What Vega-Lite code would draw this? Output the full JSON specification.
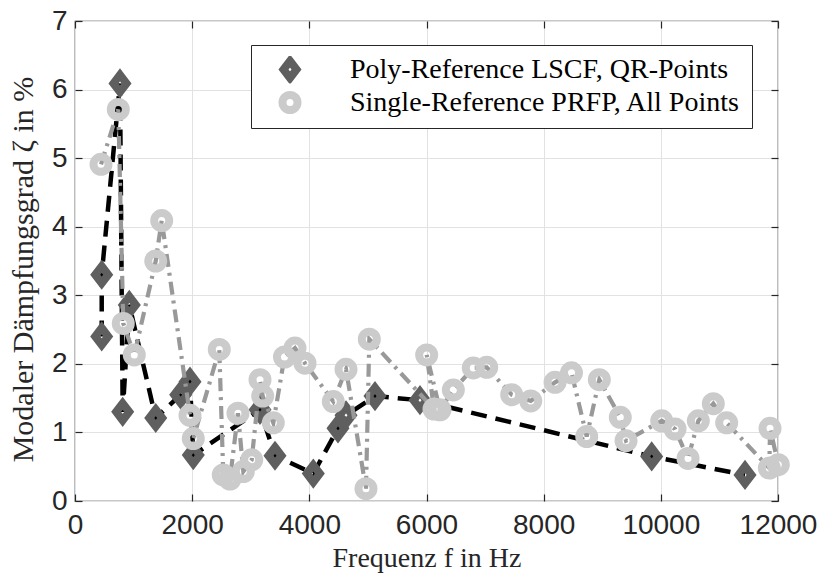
{
  "$schema": "https://vega.github.io/schema/vega-lite/v6.json",
  "width": 703,
  "height": 480,
  "autosize": {"type": "none"},
  "padding": {"left": 75, "top": 21, "right": 40, "bottom": 72},
  "background": "white",
  "config": {
    "view": {"stroke": "#262626", "strokeWidth": 1.2},
    "axis": {
      "gridColor": "#e2e2e2",
      "gridWidth": 1,
      "tickColor": "#262626",
      "tickWidth": 1.2,
      "domain": false,
      "labelFont": "Liberation Sans",
      "labelFontSize": 28,
      "labelColor": "#262626",
      "titleFont": "Liberation Serif",
      "titleFontSize": 28,
      "titleFontWeight": "normal",
      "titleColor": "#262626"
    },
    "legend": {
      "title": null,
      "orient": "none",
      "legendX": 176,
      "legendY": 24,
      "labelFont": "Liberation Serif",
      "labelFontSize": 28,
      "labelColor": "#000000",
      "labelLimit": 700,
      "strokeColor": "#262626",
      "fillColor": "white",
      "padding": 11,
      "symbolStrokeWidth": 8,
      "labelOffset": 46,
      "rowPadding": 4,
      "clipHeight": 27,
      "symbolOffset": 14
    }
  },
  "data": {
    "values": [
      {"series": "Poly-Reference LSCF, QR-Points", "f": 456, "z": 2.40, "o": 1},
      {"series": "Poly-Reference LSCF, QR-Points", "f": 456, "z": 3.30, "o": 2},
      {"series": "Poly-Reference LSCF, QR-Points", "f": 768, "z": 6.09, "o": 3},
      {"series": "Poly-Reference LSCF, QR-Points", "f": 814, "z": 1.30, "o": 4},
      {"series": "Poly-Reference LSCF, QR-Points", "f": 927, "z": 2.86, "o": 5},
      {"series": "Poly-Reference LSCF, QR-Points", "f": 1378, "z": 1.21, "o": 6},
      {"series": "Poly-Reference LSCF, QR-Points", "f": 1804, "z": 1.55, "o": 7},
      {"series": "Poly-Reference LSCF, QR-Points", "f": 1963, "z": 1.74, "o": 8},
      {"series": "Poly-Reference LSCF, QR-Points", "f": 2019, "z": 0.67, "o": 9},
      {"series": "Poly-Reference LSCF, QR-Points", "f": 3158, "z": 1.33, "o": 10},
      {"series": "Poly-Reference LSCF, QR-Points", "f": 3414, "z": 0.66, "o": 11},
      {"series": "Poly-Reference LSCF, QR-Points", "f": 4068, "z": 0.40, "o": 12},
      {"series": "Poly-Reference LSCF, QR-Points", "f": 4489, "z": 1.06, "o": 13},
      {"series": "Poly-Reference LSCF, QR-Points", "f": 4626, "z": 1.25, "o": 14},
      {"series": "Poly-Reference LSCF, QR-Points", "f": 5121, "z": 1.53, "o": 15},
      {"series": "Poly-Reference LSCF, QR-Points", "f": 5889, "z": 1.47, "o": 16},
      {"series": "Poly-Reference LSCF, QR-Points", "f": 9844, "z": 0.65, "o": 17},
      {"series": "Poly-Reference LSCF, QR-Points", "f": 11437, "z": 0.38, "o": 18},
      {"series": "Single-Reference PRFP, All Points", "f": 444, "z": 4.91, "o": 1},
      {"series": "Single-Reference PRFP, All Points", "f": 739, "z": 5.71, "o": 2},
      {"series": "Single-Reference PRFP, All Points", "f": 824, "z": 2.59, "o": 3},
      {"series": "Single-Reference PRFP, All Points", "f": 1012, "z": 2.13, "o": 4},
      {"series": "Single-Reference PRFP, All Points", "f": 1378, "z": 3.50, "o": 5},
      {"series": "Single-Reference PRFP, All Points", "f": 1480, "z": 4.09, "o": 6},
      {"series": "Single-Reference PRFP, All Points", "f": 1963, "z": 1.25, "o": 7},
      {"series": "Single-Reference PRFP, All Points", "f": 2019, "z": 0.91, "o": 8},
      {"series": "Single-Reference PRFP, All Points", "f": 2463, "z": 2.21, "o": 9},
      {"series": "Single-Reference PRFP, All Points", "f": 2531, "z": 0.38, "o": 10},
      {"series": "Single-Reference PRFP, All Points", "f": 2646, "z": 0.32, "o": 11},
      {"series": "Single-Reference PRFP, All Points", "f": 2782, "z": 1.28, "o": 12},
      {"series": "Single-Reference PRFP, All Points", "f": 2873, "z": 0.43, "o": 13},
      {"series": "Single-Reference PRFP, All Points", "f": 3016, "z": 0.60, "o": 14},
      {"series": "Single-Reference PRFP, All Points", "f": 3158, "z": 1.77, "o": 15},
      {"series": "Single-Reference PRFP, All Points", "f": 3204, "z": 1.53, "o": 16},
      {"series": "Single-Reference PRFP, All Points", "f": 3385, "z": 1.14, "o": 17},
      {"series": "Single-Reference PRFP, All Points", "f": 3576, "z": 2.10, "o": 18},
      {"series": "Single-Reference PRFP, All Points", "f": 3755, "z": 2.23, "o": 19},
      {"series": "Single-Reference PRFP, All Points", "f": 3926, "z": 2.01, "o": 20},
      {"series": "Single-Reference PRFP, All Points", "f": 4409, "z": 1.45, "o": 21},
      {"series": "Single-Reference PRFP, All Points", "f": 4626, "z": 1.92, "o": 22},
      {"series": "Single-Reference PRFP, All Points", "f": 4967, "z": 0.18, "o": 23},
      {"series": "Single-Reference PRFP, All Points", "f": 5024, "z": 2.36, "o": 24},
      {"series": "Single-Reference PRFP, All Points", "f": 6128, "z": 1.34, "o": 25},
      {"series": "Single-Reference PRFP, All Points", "f": 6003, "z": 2.13, "o": 26},
      {"series": "Single-Reference PRFP, All Points", "f": 6230, "z": 1.33, "o": 27},
      {"series": "Single-Reference PRFP, All Points", "f": 6458, "z": 1.62, "o": 28},
      {"series": "Single-Reference PRFP, All Points", "f": 6799, "z": 1.94, "o": 29},
      {"series": "Single-Reference PRFP, All Points", "f": 7028, "z": 1.95, "o": 30},
      {"series": "Single-Reference PRFP, All Points", "f": 7454, "z": 1.55, "o": 31},
      {"series": "Single-Reference PRFP, All Points", "f": 7779, "z": 1.46, "o": 32},
      {"series": "Single-Reference PRFP, All Points", "f": 8194, "z": 1.73, "o": 33},
      {"series": "Single-Reference PRFP, All Points", "f": 8475, "z": 1.87, "o": 34},
      {"series": "Single-Reference PRFP, All Points", "f": 8735, "z": 0.94, "o": 35},
      {"series": "Single-Reference PRFP, All Points", "f": 8950, "z": 1.77, "o": 36},
      {"series": "Single-Reference PRFP, All Points", "f": 9308, "z": 1.22, "o": 37},
      {"series": "Single-Reference PRFP, All Points", "f": 9406, "z": 0.88, "o": 38},
      {"series": "Single-Reference PRFP, All Points", "f": 10015, "z": 1.17, "o": 39},
      {"series": "Single-Reference PRFP, All Points", "f": 10242, "z": 1.05, "o": 40},
      {"series": "Single-Reference PRFP, All Points", "f": 10464, "z": 0.62, "o": 41},
      {"series": "Single-Reference PRFP, All Points", "f": 10640, "z": 1.17, "o": 42},
      {"series": "Single-Reference PRFP, All Points", "f": 10896, "z": 1.42, "o": 43},
      {"series": "Single-Reference PRFP, All Points", "f": 11124, "z": 1.14, "o": 44},
      {"series": "Single-Reference PRFP, All Points", "f": 11852, "z": 0.48, "o": 45},
      {"series": "Single-Reference PRFP, All Points", "f": 11864, "z": 1.06, "o": 46},
      {"series": "Single-Reference PRFP, All Points", "f": 12005, "z": 0.53, "o": 47}
    ]
  },
  "layer": [
    {
      "transform": [{"filter": "datum.series === 'Poly-Reference LSCF, QR-Points'"}],
      "mark": {"type": "line", "color": "#000000", "strokeWidth": 4.5, "strokeDash": [16, 9], "strokeCap": "butt"},
      "encoding": {
        "x": {"field": "f", "type": "quantitative", "scale": {"domain": [0, 12000], "nice": false, "zero": false},
          "axis": {"orient": "bottom", "values": [0, 2000, 4000, 6000, 8000, 10000, 12000], "format": "d", "grid": true, "tickSize": -7, "labelPadding": 17, "labelFlush": false, "labelOverlap": false, "title": "Frequenz f in Hz", "titlePadding": 5}},
        "y": {"field": "z", "type": "quantitative", "scale": {"domain": [0, 7], "nice": false},
          "axis": {"orient": "left", "values": [0, 1, 2, 3, 4, 5, 6, 7], "format": "d", "grid": true, "tickSize": -7, "labelPadding": 15, "labelFlush": false, "labelOverlap": false, "title": "Modaler Dämpfungsgrad ζ in %", "titleFontSize": 30, "titlePadding": 13, "titleY": 248}},
        "order": {"field": "o", "type": "quantitative"}
      }
    },
    {
      "transform": [{"filter": "datum.series === 'Poly-Reference LSCF, QR-Points'"}],
      "mark": {"type": "point", "filled": false, "strokeWidth": 8, "opacity": 1},
      "encoding": {
        "x": {"field": "f", "type": "quantitative", "axis": null},
        "y": {"field": "z", "type": "quantitative", "axis": null},
        "color": {"field": "series", "type": "nominal",
          "scale": {"domain": ["Poly-Reference LSCF, QR-Points", "Single-Reference PRFP, All Points"], "range": ["#5f5f5f", "#cbcbcb"]}},
        "shape": {"field": "series", "type": "nominal",
          "scale": {"domain": ["Poly-Reference LSCF, QR-Points", "Single-Reference PRFP, All Points"], "range": ["M0,-1.3077L1,0L0,1.3077L-1,0Z", "circle"]}},
        "size": {"field": "series", "type": "nominal",
          "scale": {"domain": ["Poly-Reference LSCF, QR-Points", "Single-Reference PRFP, All Points"], "range": [169, 225]}}
      }
    },
    {
      "transform": [{"filter": "datum.series === 'Single-Reference PRFP, All Points'"}],
      "mark": {"type": "line", "color": "#999999", "strokeWidth": 4.2, "strokeDash": [13, 6, 3, 6], "strokeCap": "butt"},
      "encoding": {
        "x": {"field": "f", "type": "quantitative",
          "axis": {"orient": "top", "values": [0, 2000, 4000, 6000, 8000, 10000, 12000], "grid": false, "tickSize": -7, "labels": false, "title": null}},
        "y": {"field": "z", "type": "quantitative",
          "axis": {"orient": "right", "values": [0, 1, 2, 3, 4, 5, 6, 7], "grid": false, "tickSize": -7, "labels": false, "title": null}},
        "order": {"field": "o", "type": "quantitative"}
      }
    },
    {
      "transform": [{"filter": "datum.series === 'Single-Reference PRFP, All Points'"}],
      "mark": {"type": "point", "filled": false, "strokeWidth": 8, "opacity": 1},
      "encoding": {
        "x": {"field": "f", "type": "quantitative", "axis": null},
        "y": {"field": "z", "type": "quantitative", "axis": null},
        "color": {"field": "series", "type": "nominal",
          "scale": {"domain": ["Poly-Reference LSCF, QR-Points", "Single-Reference PRFP, All Points"], "range": ["#5f5f5f", "#cbcbcb"]}},
        "shape": {"field": "series", "type": "nominal",
          "scale": {"domain": ["Poly-Reference LSCF, QR-Points", "Single-Reference PRFP, All Points"], "range": ["M0,-1.3077L1,0L0,1.3077L-1,0Z", "circle"]}},
        "size": {"field": "series", "type": "nominal",
          "scale": {"domain": ["Poly-Reference LSCF, QR-Points", "Single-Reference PRFP, All Points"], "range": [169, 225]}}
      }
    }
  ],
  "resolve": {"axis": {"x": "independent", "y": "independent"}}
}
